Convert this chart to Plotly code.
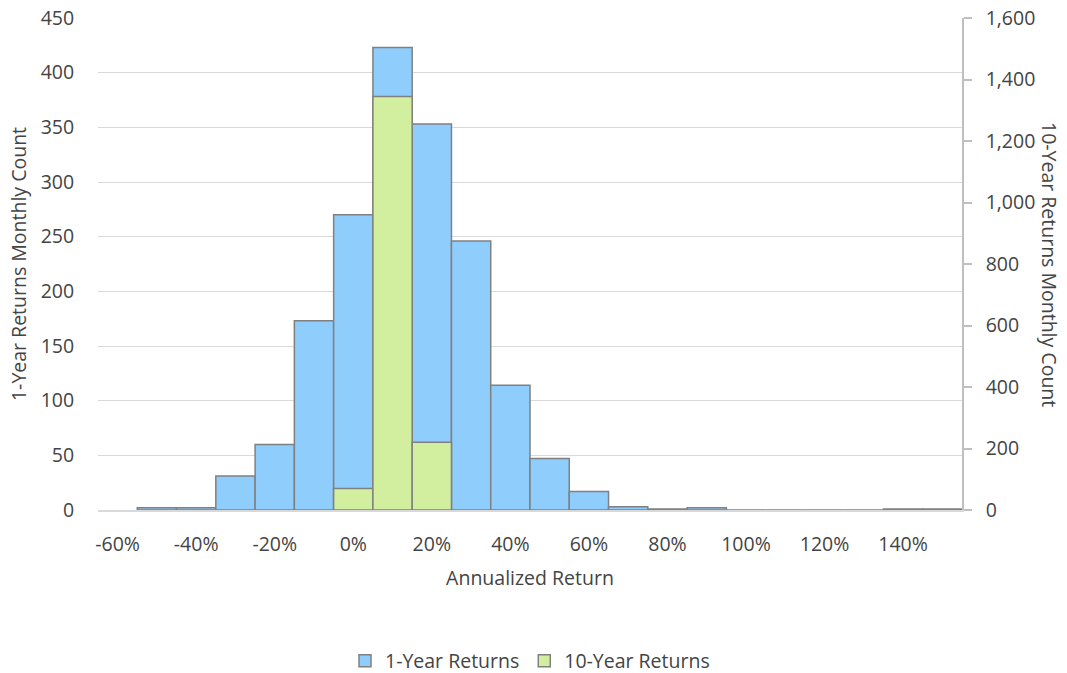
import plotly.graph_objects as go

# Bin centers (annualized return, %)
bins = [-50, -40, -30, -20, -10, 0, 10, 20, 30, 40, 50, 60, 70, 80, 90, 100, 110, 120, 130, 140, 150]
one_year = [2, 2, 31, 60, 173, 270, 423, 353, 246, 114, 47, 17, 3, 1, 2, 0, 0, 0, 0, 1, 1]
ten_bins = [0, 10, 20]
ten_year = [70, 1345, 220]

x_tickvals = [-60, -40, -20, 0, 20, 40, 60, 80, 100, 120, 140]
x_ticktext = ["-60%", "-40%", "-20%", "0%", "20%", "40%", "60%", "80%", "100%", "120%", "140%"]
y1_ticks = [0, 50, 100, 150, 200, 250, 300, 350, 400, 450]
y2_ticks = [0, 200, 400, 600, 800, 1000, 1200, 1400, 1600]

FONT = "Open Sans"
TXT = "#444444"
FS = 19.5

fig = go.Figure()
fig.add_trace(go.Bar(
    x=bins, y=one_year, width=10, name="1-Year Returns",
    marker=dict(color="#8FCDFD", line=dict(color="#808080", width=1.5)),
    yaxis="y",
))
fig.add_trace(go.Bar(
    x=ten_bins, y=ten_year, width=10, name="10-Year Returns",
    marker=dict(color="#D2EF9F", line=dict(color="#808080", width=1.5)),
    yaxis="y2",
))

fig.update_layout(
    width=1067, height=673,
    margin=dict(l=98, r=105, t=18, b=163, autoexpand=False),
    plot_bgcolor="white", paper_bgcolor="white",
    barmode="overlay",
    font=dict(family=FONT, size=FS, color=TXT),
    showlegend=True,
    legend=dict(orientation="h", x=0.5, xanchor="center", y=-0.307, yanchor="middle",
                font=dict(size=FS, color=TXT), traceorder="normal", itemwidth=30),
    xaxis=dict(
        range=[-65, 155], tickvals=x_tickvals, ticktext=x_ticktext,
        showgrid=False, zeroline=False, showline=True, linecolor="#D9D9D9", linewidth=1.5,
        title=dict(text="Annualized Return", font=dict(size=FS, color=TXT), standoff=15),
        ticks="outside", ticklen=16, tickcolor="rgba(0,0,0,0)",
        tickfont=dict(size=FS, color=TXT), automargin=False,
    ),
    yaxis=dict(
        range=[0, 450], tickvals=y1_ticks, showgrid=True, gridcolor="#D9D9D9", gridwidth=1,
        zeroline=False, showline=False,
        ticks="outside", ticklen=19, tickcolor="rgba(0,0,0,0)",
        title=dict(text="1-Year Returns Monthly Count", font=dict(size=FS, color=TXT), standoff=8),
        tickfont=dict(size=FS, color=TXT), automargin=False, ticklabeloverflow="allow",
    ),
    yaxis2=dict(
        range=[0, 1600], tickvals=y2_ticks, overlaying="y", side="right",
        showgrid=False, zeroline=False, showline=True, linecolor="#BFBFBF", linewidth=1.5,
        ticks="outside", ticklen=8, tickcolor="#BFBFBF", tickwidth=1.5,
        ticklabelstandoff=10,
        tickformat=",d", separatethousands=True,
        tickfont=dict(size=FS, color=TXT), automargin=False, ticklabeloverflow="allow",
    ),
    annotations=[dict(
        text="10-Year Returns Monthly Count", textangle=90,
        xref="paper", yref="paper", x=1, y=0.5, xanchor="center", yanchor="middle",
        xshift=88, showarrow=False, font=dict(size=FS, color=TXT, family=FONT),
    )],
)

fig.write_html("out.html", config={"displayModeBar": False},
               post_script="document.body.style.margin='0';")
